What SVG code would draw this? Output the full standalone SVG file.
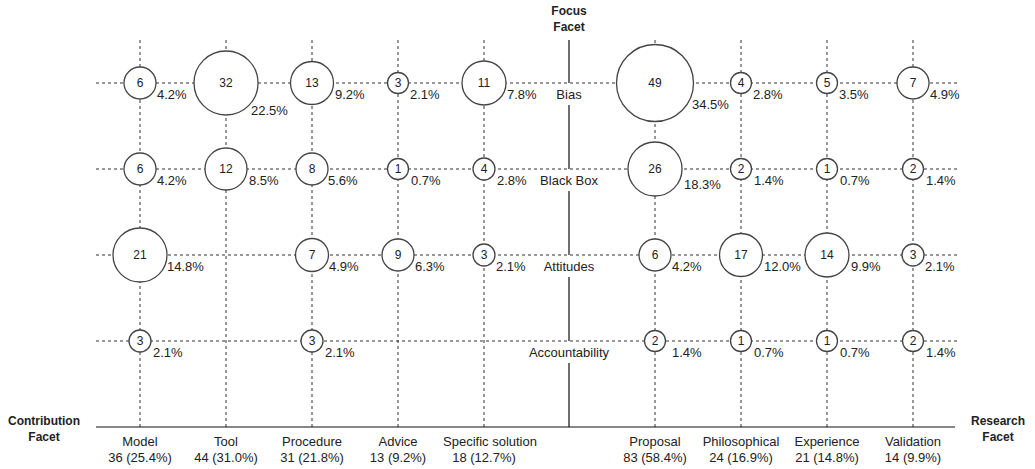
<svg xmlns="http://www.w3.org/2000/svg" width="1035" height="469" viewBox="0 0 1035 469">
<style>
text{font-family:"Liberation Sans",Arial,sans-serif;fill:#222}
.grid{stroke:#333;stroke-width:1;stroke-dasharray:3 3;fill:none}
.axis{stroke:#111;stroke-width:1.2;fill:none}
.node circle{fill:#fff;stroke:#444;stroke-width:1.3}
.num{font-size:12px;text-anchor:middle}
.pct{font-size:13px}
.lab{font-size:13px;text-anchor:middle}
.facet{font-size:12px;font-weight:bold;text-anchor:middle}
</style>
<g id="connectors">
<line class="grid" x1="96" y1="83" x2="957" y2="83"/>
<line class="grid" x1="96" y1="169" x2="957" y2="169"/>
<line class="grid" x1="96" y1="255" x2="957" y2="255"/>
<line class="grid" x1="96" y1="341" x2="957" y2="341"/>
<line class="grid" x1="140" y1="40" x2="140" y2="427"/>
<line class="grid" x1="226" y1="40" x2="226" y2="427"/>
<line class="grid" x1="312" y1="40" x2="312" y2="427"/>
<line class="grid" x1="398" y1="40" x2="398" y2="427"/>
<line class="grid" x1="484" y1="40" x2="484" y2="427"/>
<line class="grid" x1="655" y1="40" x2="655" y2="427"/>
<line class="grid" x1="741" y1="40" x2="741" y2="427"/>
<line class="grid" x1="827" y1="40" x2="827" y2="427"/>
<line class="grid" x1="913" y1="40" x2="913" y2="427"/>
<line class="axis" x1="96" y1="427" x2="955" y2="427"/>
<path class="axis" d="M569 40V83M569 105V169M569 191V255M569 277V341M569 363V427"/>
</g>
<g id="axis-labels">
<text class="facet" x="569" y="15">Focus</text>
<text class="facet" x="569" y="31">Facet</text>
<text class="facet" x="44" y="425">Contribution</text>
<text class="facet" x="44" y="441">Facet</text>
<text class="facet" x="998" y="425">Research</text>
<text class="facet" x="998" y="441">Facet</text>
<text class="lab" x="569" y="99">Bias</text>
<text class="lab" x="569" y="185">Black Box</text>
<text class="lab" x="569" y="271">Attitudes</text>
<text class="lab" x="569" y="357">Accountability</text>
</g>
<g id="column-labels">
<text class="lab" x="140" y="446">Model</text><text class="lab" x="140" y="462">36 (25.4%)</text>
<text class="lab" x="226" y="446">Tool</text><text class="lab" x="226" y="462">44 (31.0%)</text>
<text class="lab" x="312" y="446">Procedure</text><text class="lab" x="312" y="462">31 (21.8%)</text>
<text class="lab" x="398" y="446">Advice</text><text class="lab" x="398" y="462">13 (9.2%)</text>
<text class="lab" x="490" y="446">Specific solution</text><text class="lab" x="484" y="462">18 (12.7%)</text>
<text class="lab" x="655" y="446">Proposal</text><text class="lab" x="655" y="462">83 (58.4%)</text>
<text class="lab" x="741" y="446">Philosophical</text><text class="lab" x="741" y="462">24 (16.9%)</text>
<text class="lab" x="827" y="446">Experience</text><text class="lab" x="827" y="462">21 (14.8%)</text>
<text class="lab" x="913" y="446">Validation</text><text class="lab" x="913" y="462">14 (9.9%)</text>
</g>
<!-- Bias row -->
<g id="n-model-bias" class="node"><circle cx="140" cy="83" r="16"/><text class="num" x="140" y="87">6</text><text class="pct" x="157" y="99">4.2%</text></g>
<g id="n-tool-bias" class="node"><circle cx="226" cy="83" r="32"/><text class="num" x="226" y="87">32</text><text class="pct" x="251" y="115">22.5%</text></g>
<g id="n-procedure-bias" class="node"><circle cx="312" cy="83" r="21.5"/><text class="num" x="312" y="87">13</text><text class="pct" x="335" y="99">9.2%</text></g>
<g id="n-advice-bias" class="node"><circle cx="398" cy="83" r="10.5"/><text class="num" x="398" y="87">3</text><text class="pct" x="410" y="99">2.1%</text></g>
<g id="n-specific-bias" class="node"><circle cx="484" cy="83" r="22"/><text class="num" x="484" y="87">11</text><text class="pct" x="507" y="99">7.8%</text></g>
<g id="n-proposal-bias" class="node"><circle cx="655" cy="83" r="38.5"/><text class="num" x="655" y="87">49</text><text class="pct" x="692" y="109">34.5%</text></g>
<g id="n-philosophical-bias" class="node"><circle cx="741" cy="83" r="10.5"/><text class="num" x="741" y="87">4</text><text class="pct" x="753" y="99">2.8%</text></g>
<g id="n-experience-bias" class="node"><circle cx="827" cy="83" r="10.5"/><text class="num" x="827" y="87">5</text><text class="pct" x="839" y="99">3.5%</text></g>
<g id="n-validation-bias" class="node"><circle cx="913" cy="83" r="16"/><text class="num" x="913" y="87">7</text><text class="pct" x="930" y="99">4.9%</text></g>
<!-- Black Box row -->
<g id="n-model-blackbox" class="node"><circle cx="140" cy="169" r="16"/><text class="num" x="140" y="173">6</text><text class="pct" x="157" y="185">4.2%</text></g>
<g id="n-tool-blackbox" class="node"><circle cx="226" cy="169" r="21"/><text class="num" x="226" y="173">12</text><text class="pct" x="249" y="185">8.5%</text></g>
<g id="n-procedure-blackbox" class="node"><circle cx="312" cy="169" r="16"/><text class="num" x="312" y="173">8</text><text class="pct" x="328" y="185">5.6%</text></g>
<g id="n-advice-blackbox" class="node"><circle cx="398" cy="169" r="10.5"/><text class="num" x="398" y="173">1</text><text class="pct" x="411" y="185">0.7%</text></g>
<g id="n-specific-blackbox" class="node"><circle cx="484" cy="169" r="11"/><text class="num" x="484" y="173">4</text><text class="pct" x="497" y="185">2.8%</text></g>
<g id="n-proposal-blackbox" class="node"><circle cx="655" cy="169" r="27"/><text class="num" x="655" y="173">26</text><text class="pct" x="684" y="189">18.3%</text></g>
<g id="n-philosophical-blackbox" class="node"><circle cx="741" cy="169" r="10.5"/><text class="num" x="741" y="173">2</text><text class="pct" x="754" y="185">1.4%</text></g>
<g id="n-experience-blackbox" class="node"><circle cx="827" cy="169" r="10.5"/><text class="num" x="827" y="173">1</text><text class="pct" x="840" y="185">0.7%</text></g>
<g id="n-validation-blackbox" class="node"><circle cx="913" cy="169" r="10.5"/><text class="num" x="913" y="173">2</text><text class="pct" x="926" y="185">1.4%</text></g>
<!-- Attitudes row -->
<g id="n-model-attitudes" class="node"><circle cx="140" cy="255" r="27"/><text class="num" x="140" y="259">21</text><text class="pct" x="167" y="271">14.8%</text></g>
<g id="n-procedure-attitudes" class="node"><circle cx="312" cy="255" r="16.5"/><text class="num" x="312" y="259">7</text><text class="pct" x="329" y="271">4.9%</text></g>
<g id="n-advice-attitudes" class="node"><circle cx="398" cy="255" r="16"/><text class="num" x="398" y="259">9</text><text class="pct" x="415" y="271">6.3%</text></g>
<g id="n-specific-attitudes" class="node"><circle cx="484" cy="255" r="11"/><text class="num" x="484" y="259">3</text><text class="pct" x="496" y="271">2.1%</text></g>
<g id="n-proposal-attitudes" class="node"><circle cx="655" cy="255" r="16"/><text class="num" x="655" y="259">6</text><text class="pct" x="672" y="271">4.2%</text></g>
<g id="n-philosophical-attitudes" class="node"><circle cx="741" cy="255" r="21.5"/><text class="num" x="741" y="259">17</text><text class="pct" x="764" y="271">12.0%</text></g>
<g id="n-experience-attitudes" class="node"><circle cx="827" cy="255" r="22"/><text class="num" x="827" y="259">14</text><text class="pct" x="851" y="271">9.9%</text></g>
<g id="n-validation-attitudes" class="node"><circle cx="913" cy="255" r="11"/><text class="num" x="913" y="259">3</text><text class="pct" x="925" y="271">2.1%</text></g>
<!-- Accountability row -->
<g id="n-model-accountability" class="node"><circle cx="140" cy="341" r="11"/><text class="num" x="140" y="345">3</text><text class="pct" x="153" y="357">2.1%</text></g>
<g id="n-procedure-accountability" class="node"><circle cx="312" cy="341" r="11"/><text class="num" x="312" y="345">3</text><text class="pct" x="325" y="357">2.1%</text></g>
<g id="n-proposal-accountability" class="node"><circle cx="655" cy="341" r="10.5"/><text class="num" x="655" y="345">2</text><text class="pct" x="672" y="357">1.4%</text></g>
<g id="n-philosophical-accountability" class="node"><circle cx="741" cy="341" r="10.5"/><text class="num" x="741" y="345">1</text><text class="pct" x="754" y="357">0.7%</text></g>
<g id="n-experience-accountability" class="node"><circle cx="827" cy="341" r="10.5"/><text class="num" x="827" y="345">1</text><text class="pct" x="840" y="357">0.7%</text></g>
<g id="n-validation-accountability" class="node"><circle cx="913" cy="341" r="10.5"/><text class="num" x="913" y="345">2</text><text class="pct" x="926" y="357">1.4%</text></g>
</svg>
